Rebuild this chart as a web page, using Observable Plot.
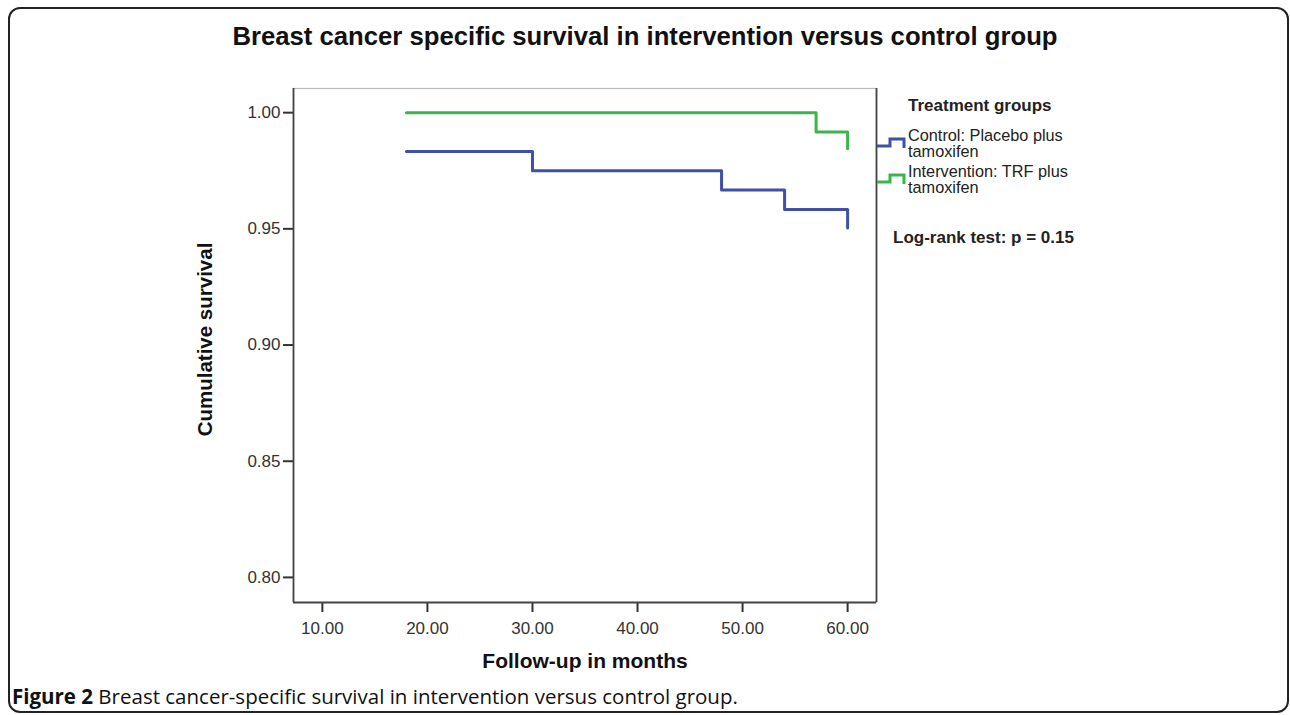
<!DOCTYPE html>
<html>
<head>
<meta charset="utf-8">
<script src="https://cdn.jsdelivr.net/npm/d3@7"></script>
<script src="https://cdn.jsdelivr.net/npm/@observablehq/plot@0.6"></script>
<style>
  html, body { margin: 0; padding: 0; background: #fff; }
  #page { position: relative; width: 1290px; height: 715px; overflow: hidden; font-family: "Liberation Sans", Arial, sans-serif; }
  #border { position: absolute; left: 8px; top: 7px; width: 1281px; height: 706px; box-sizing: border-box; border: 2px solid #222; border-radius: 12px; }
  #title { position: absolute; left: 0; width: 1290px; top: 21px; text-align: center; font-weight: bold; font-size: 25.7px; color: #111; line-height: 30px; }
  #chart { position: absolute; left: 0; top: 0; }
  .leg { position: absolute; color: #222; white-space: nowrap; }
  #legtitle { left: 908px; top: 96px; font-weight: bold; font-size: 17px; }
  .legitem { font-size: 16.3px; line-height: 15.5px; }
  #logrank { left: 893px; top: 228px; font-weight: bold; font-size: 17px; }
  #caption { position: absolute; left: 12px; top: 682px; font-family: "Open Sans", sans-serif; font-size: 20.5px; color: #111; white-space: nowrap; }
  .icon { position: absolute; }
</style>
</head>
<body>
<div id="page">
  <div id="border"></div>
  <div id="title">Breast cancer specific survival in intervention versus control group</div>
  <div id="chart"></div>
  <div id="legend"></div>
  <div id="caption"><b>Figure 2</b> Breast cancer-specific survival in intervention versus control group.</div>
</div>
<script>
// ---- data ----
const groups = ["Control: Placebo plus tamoxifen", "Intervention: TRF plus tamoxifen"];
const groupColors = ["#3f51a6", "#3bb54a"];
const controlMonths = [18, 30, 48, 54, 60];
const controlSurvival = [0.9833, 0.9750, 0.9667, 0.9583, 0.9504];
const interventionMonths = [18, 57, 60];
const interventionSurvival = [1.0, 0.9917, 0.9845];
const xTicks = [10, 20, 30, 40, 50, 60];
const yTicks = [0.80, 0.85, 0.90, 0.95, 1.00];
const xLabel = "Follow-up in months";
const yLabel = "Cumulative survival";
const legendTitle = "Treatment groups";
const testText = "Log-rank test: p = 0.15";

const rows = [
  ...controlMonths.map((m, i) => ({group: groups[0], month: m, surv: controlSurvival[i]})),
  ...interventionMonths.map((m, i) => ({group: groups[1], month: m, surv: interventionSurvival[i]}))
];

const chart = Plot.plot({
  width: 1290,
  height: 715,
  marginLeft: 293,
  marginRight: 414,
  marginTop: 88,
  marginBottom: 113,
  style: {fontFamily: "'Liberation Sans', Arial, sans-serif", background: "transparent", overflow: "visible"},
  x: {domain: [7.25, 62.75]},
  y: {domain: [0.7892, 1.0104]},
  color: {domain: groups, range: groupColors},
  marks: [
    Plot.frame({stroke: "#bbb", strokeWidth: 1.2}),
    Plot.axisY(yTicks, {tickFormat: ".2f", tickSize: 10, tickPadding: 3, fontSize: 17, color: "#333", strokeWidth: 2, label: null}),
    Plot.axisX(xTicks, {tickFormat: ".2f", tickSize: 10, tickPadding: 9, fontSize: 17, color: "#333", strokeWidth: 2, label: null}),
    Plot.ruleX([7.25, 62.75], {stroke: "#444", strokeWidth: 1.8}),
    Plot.ruleY([0.7892], {stroke: "#444", strokeWidth: 1.8}),
    Plot.line(rows, {x: "month", y: "surv", z: "group", stroke: "group", curve: "step-after", strokeWidth: 3}),
    Plot.text([xLabel], {frameAnchor: "bottom", dy: 65, fontSize: 21, fontWeight: "bold", fill: "#111"}),
    Plot.text([yLabel], {frameAnchor: "left", textAnchor: "middle", dx: -88, dy: -6, rotate: -90, fontSize: 20.5, fontWeight: "bold", fill: "#111"})
  ]
});
document.getElementById("chart").append(chart);

// legend
const legend = document.getElementById("legend");
const lt = document.createElement("div");
lt.className = "leg"; lt.id = "legtitle"; lt.textContent = legendTitle;
legend.append(lt);
const tops = [128, 164];
groups.forEach((g, i) => {
  const d = document.createElement("div");
  d.className = "leg legitem";
  d.style.left = "908px";
  d.style.top = tops[i] + "px";
  const parts = g.split(" plus ");
  d.innerHTML = parts[0] + " plus<br>" + parts[1];
  legend.append(d);
  const ns = "http://www.w3.org/2000/svg";
  const s = document.createElementNS(ns, "svg");
  s.setAttribute("class", "icon");
  s.setAttribute("width", 32); s.setAttribute("height", 16);
  s.style.left = "876px"; s.style.top = (tops[i] + 8) + "px";
  const p = document.createElementNS(ns, "path");
  p.setAttribute("d", "M1,10 H14 V3 H28 V12");
  p.setAttribute("fill", "none");
  p.setAttribute("stroke", groupColors[i]);
  p.setAttribute("stroke-width", 3);
  s.append(p);
  legend.append(s);
});
const lr = document.createElement("div");
lr.className = "leg"; lr.id = "logrank"; lr.textContent = testText;
legend.append(lr);
</script>
</body>
</html>
